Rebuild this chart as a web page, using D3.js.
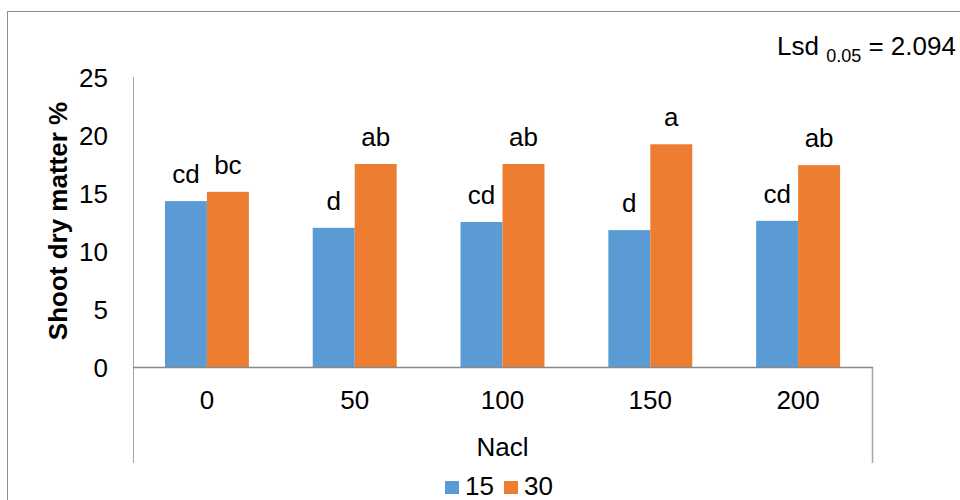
<!DOCTYPE html>
<html><head><meta charset="utf-8">
<script src="https://cdn.jsdelivr.net/npm/d3@7"></script>
<style>body{margin:0;background:#fff}text{font-family:"Liberation Sans",Arial,sans-serif;fill:#000}</style>
</head><body><svg id="c" width="960" height="500"></svg>
<script>
const categories = ["0","50","100","150","200"];
const seriesNames = ["15","30"];
const values15 = [14.3, 12.0, 12.5, 11.8, 12.6];
const values30 = [15.1, 17.5, 17.5, 19.2, 17.4];
const letters15 = ["cd","d","cd","d","cd"];
const letters30 = ["bc","ab","ab","a","ab"];
const yTicks = [0,5,10,15,20,25];
const colors = ["#5b9bd5","#ed7d31"];

(function(){
const svg = d3.select("#c");
const pLeft = 133, pRight = 872, pTop = 77, pBase = 367, pBottomExt = 463;
const fs = 26;

// outer border
svg.append("rect").attr("x",7.5).attr("y",11.5).attr("width",960).attr("height",500)
  .attr("fill","none").attr("stroke","#8c8c8c").attr("stroke-width",1);

const x = d3.scaleBand().domain(categories).range([pLeft,pRight]).paddingInner(0.432).paddingOuter(0.216);
const xs = d3.scaleBand().domain(seriesNames).range([0,x.bandwidth()]);
const y = d3.scaleLinear().domain([0,25]).range([pBase,pTop]);

// y axis line
svg.append("line").attr("x1",pLeft+0.5).attr("x2",pLeft+0.5).attr("y1",pTop).attr("y2",pBottomExt)
  .attr("stroke","#a6a6a6").attr("stroke-width",1);
// right category separator
svg.append("line").attr("x1",pRight+0.5).attr("x2",pRight+0.5).attr("y1",pBase).attr("y2",pBottomExt)
  .attr("stroke","#a6a6a6").attr("stroke-width",1.5);

// y tick labels
svg.append("g").selectAll("text").data(yTicks).join("text")
  .attr("x",108).attr("y",d=>y(d)+9.5).attr("text-anchor","end")
  .attr("font-size",fs).text(d=>d);

const data = categories.map((c,i)=>({c, vals:[values15[i],values30[i]], lets:[letters15[i],letters30[i]]}));

const g = svg.append("g");
data.forEach(d=>{
  d.vals.forEach((v,j)=>{
    const bx = x(d.c)+xs(seriesNames[j]);
    g.append("rect").attr("x",bx).attr("y",y(v)).attr("width",xs.bandwidth()).attr("height",y(0)-y(v))
      .attr("fill",colors[j]);
    g.append("text").attr("x",bx+xs.bandwidth()/2).attr("y",y(v)-18).attr("text-anchor","middle")
      .attr("font-size",fs).text(d.lets[j]);
  });
});

// x axis line
svg.append("line").attr("x1",pLeft).attr("x2",pRight+1).attr("y1",pBase+0.5).attr("y2",pBase+0.5)
  .attr("stroke","#898989").attr("stroke-width",1.5);

// x tick labels
svg.append("g").selectAll("text").data(categories).join("text")
  .attr("x",d=>x(d)+x.bandwidth()/2).attr("y",409).attr("text-anchor","middle")
  .attr("font-size",fs).text(d=>d);

// x title
svg.append("text").attr("x",(pLeft+pRight)/2).attr("y",456).attr("text-anchor","middle")
  .attr("font-size",fs).text("Nacl");

// y title
svg.append("text").attr("transform","translate(67,221) rotate(-90)").attr("text-anchor","middle")
  .attr("font-size",26).attr("font-weight","bold").text("Shoot dry matter %");

// Lsd annotation
const lsd = svg.append("text").attr("x",777).attr("y",55).attr("font-size",fs);
lsd.append("tspan").text("Lsd ");
lsd.append("tspan").attr("font-size",18).attr("dy",7).text("0.05");
lsd.append("tspan").attr("dy",-7).text(" = 2.094");

// legend
const leg = svg.append("g");
seriesNames.forEach((s,i)=>{
  const lx = 445 + i*59;
  leg.append("rect").attr("x",lx).attr("y",481).attr("width",14).attr("height",13).attr("fill",colors[i]);
  leg.append("text").attr("x",lx+20).attr("y",494.5).attr("font-size",fs).text(s);
});
})();
</script></body></html>
